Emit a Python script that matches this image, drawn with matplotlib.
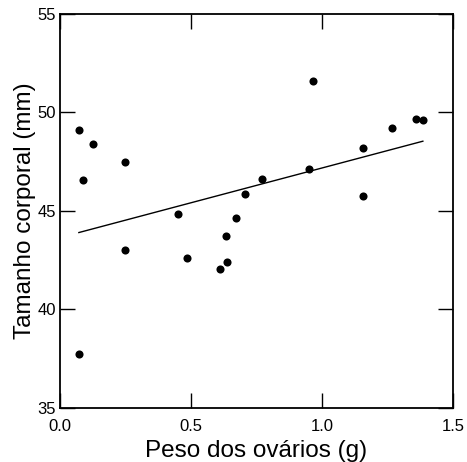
import numpy as np
import matplotlib
matplotlib.use("Agg")
import matplotlib.pyplot as plt

plt.rcParams['font.family'] = ['Liberation Sans', 'DejaVu Sans']

ovary_weight = [0.072, 0.072, 0.089, 0.126, 0.248, 0.449, 0.249, 0.485, 0.609, 0.637,
                0.634, 0.673, 0.706, 0.770, 0.952, 0.964, 1.158, 1.156, 1.268, 1.359, 1.385]
body_size = [37.74, 49.11, 46.57, 48.40, 47.50, 44.86, 43.02, 42.63, 42.07, 42.43,
             43.72, 44.66, 45.85, 46.62, 47.13, 51.60, 48.20, 45.76, 49.20, 49.65, 49.63]

xticks = [0.0, 0.5, 1.0, 1.5]
xticklabels = ["0.0", "0.5", "1.0", "1.5"]
yticks = [35, 40, 45, 50, 55]
yticklabels = ["35", "40", "45", "50", "55"]

fig = plt.figure(figsize=(4.67, 4.62), dpi=100)
ax = fig.add_axes([60/467, 1-408/462, 393/467, 394/462])

x = np.array(ovary_weight)
y = np.array(body_size)
ax.scatter(x, y, s=34, color='black', zorder=3, linewidths=0)
b, a = np.polyfit(x, y, 1)
xl = np.array([x.min(), x.max()])
ax.plot(xl, a + b*xl, color='black', lw=1.0)

ax.set_xlim(0, 1.5)
ax.set_ylim(35, 55)
ax.set_xticks(xticks)
ax.set_xticklabels(xticklabels)
ax.set_yticks(yticks)
ax.set_yticklabels(yticklabels)
ax.tick_params(direction='in', length=11, width=1.0, top=True, right=True,
               labelsize=12, pad=3)
ax.tick_params(axis='x', pad=8)
for s in ax.spines.values():
    s.set_linewidth(1.3)
ax.set_xlabel("Peso dos ovários (g)", fontsize=17.5, labelpad=4)
ax.set_ylabel("Tamanho corporal (mm)", fontsize=17.5, labelpad=1)

fig.savefig("out.png", dpi=100)
